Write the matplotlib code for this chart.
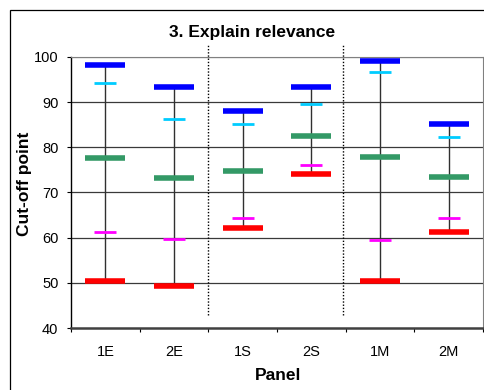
import matplotlib
matplotlib.use("Agg")
import matplotlib.pyplot as plt
from matplotlib.patches import Rectangle

plt.rcParams['font.family'] = ['Liberation Sans', 'DejaVu Sans']

panels = ["1E", "2E", "1S", "2S", "1M", "2M"]
blue_vals = [98.2, 93.3, 88.1, 93.3, 99.1, 85.2]
cyan_vals = [94.3, 86.2, 85.2, 89.5, 96.6, 82.3]
green_vals = [77.6, 73.1, 74.7, 82.5, 77.9, 73.4]
magenta_vals = [61.2, 59.8, 64.4, 76.0, 59.5, 64.4]
red_vals = [50.3, 49.3, 62.1, 74.1, 50.3, 61.2]
yticks = [40, 50, 60, 70, 80, 90, 100]
separators = [2.0, 3.96]

fig = plt.figure(figsize=(4.85, 3.90), dpi=100)
ax = fig.add_axes([71/485, 62/390, 412/485, 271/390])

ax.set_xlim(0, 6)
ax.set_ylim(40, 100)

grid_c = '#3a3a3a'
for y in yticks[1:]:
    ax.axhline(y, color=grid_c if y < 100 else '#808080', lw=0.9, zorder=1)

centers = [i + 0.5 for i in range(len(panels))]
lo = [min(a, b, c, d, e) for a, b, c, d, e in zip(blue_vals, cyan_vals, green_vals, magenta_vals, red_vals)]
hi = [max(a, b, c, d, e) for a, b, c, d, e in zip(blue_vals, cyan_vals, green_vals, magenta_vals, red_vals)]
ax.vlines(centers, lo, hi, color='#303030', lw=1.0, zorder=2)

wthick = 0.58
wthin = 0.32
def bars(vals, color, w, lw):
    ax.hlines(vals, [c - w/2 for c in centers], [c + w/2 for c in centers],
              color=color, lw=lw, zorder=3, capstyle='butt')

bars(cyan_vals, '#00CCFF', wthin, 2.0)
bars(magenta_vals, '#FF00FF', wthin, 2.0)
bars(blue_vals, '#0000FF', wthick, 4.0)
bars(green_vals, '#339966', wthick, 4.0)
bars(red_vals, '#FF0000', wthick, 4.0)

for s in separators:
    ax.vlines(s, 42.9, 102.6, color='black', lw=1.0, linestyles=(0, (1, 1.3)),
              clip_on=False, zorder=4)

for side in ['top', 'right']:
    ax.spines[side].set_color('#808080')
    ax.spines[side].set_linewidth(0.8)
ax.spines['left'].set_color('black')
ax.spines['left'].set_linewidth(1.0)
ax.spines['bottom'].set_color('#404040')
ax.spines['bottom'].set_linewidth(1.8)

ax.set_yticks(yticks)
ax.set_yticklabels([str(v) for v in yticks], fontsize=10.5)
ax.tick_params(axis='y', direction='out', length=3, width=0.8, pad=6)

ax.set_xticks(range(7))
ax.set_xticklabels([''] * 7)
ax.set_xticks(centers, minor=True)
ax.set_xticklabels(panels, minor=True, fontsize=10.5)
ax.tick_params(axis='x', which='major', direction='out', length=3, width=0.8)
ax.tick_params(axis='x', which='minor', length=0, pad=12)

fig.text(252/485, (390-32)/390, "3. Explain relevance", fontsize=12.5,
         fontweight='bold', ha='center', va='center')
fig.text(25/485, (390-184)/390, "Cut-off point", fontsize=12.5,
         fontweight='bold', ha='center', va='center', rotation=90)
fig.text(278/485, (390-376)/390, "Panel", fontsize=12.5,
         fontweight='bold', ha='center', va='center')

fig.patches.append(Rectangle((10.5/485, -0.1), 1.2, 1.1 - 10.5/390 + 0.0,
                             transform=fig.transFigure, fill=False,
                             edgecolor='black', lw=0.9))

fig.savefig("out.png", dpi=100)
